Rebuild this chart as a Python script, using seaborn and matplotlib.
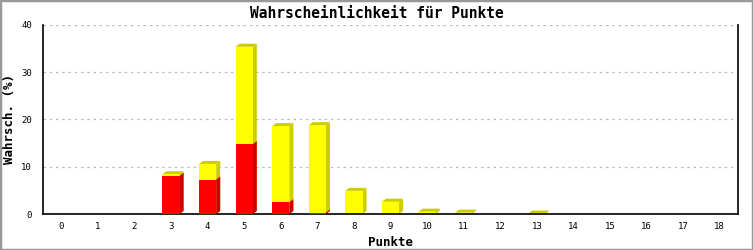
import matplotlib
matplotlib.use("Agg")
import matplotlib.pyplot as plt
import seaborn as sns
import pandas as pd
import numpy as np
from matplotlib.patches import Polygon, Rectangle

categories = [str(i) for i in range(19)]
red_values = [0, 0, 0, 8.1, 7.3, 14.8, 2.5, 0.3, 0, 0, 0, 0, 0, 0, 0, 0, 0, 0, 0]
yellow_values = [0, 0, 0, 0.3, 3.3, 20.6, 16.1, 18.5, 4.9, 2.6, 0.5, 0.3, 0, 0.1, 0, 0, 0, 0, 0]
y_ticks = [0, 10, 20, 30, 40]

df = pd.DataFrame({"Punkte": categories,
                   "red": red_values,
                   "total": [r + y for r, y in zip(red_values, yellow_values)]})

sns.set_style("white")
plt.rcParams['font.family'] = ['DejaVu Sans Mono']
plt.rcParams['text.color'] = 'black'
plt.rcParams['axes.labelcolor'] = 'black'
plt.rcParams['xtick.color'] = 'black'
plt.rcParams['ytick.color'] = 'black'

fig = plt.figure(figsize=(7.53, 2.5), dpi=100)
ax = fig.add_axes([43/753, 1-214/250, (738-43)/753, (214-25)/250])

BAR_W = 0.47
sns.barplot(data=df, x="Punkte", y="total", color="#ffff00", width=BAR_W,
            saturation=1, ax=ax, linewidth=0, zorder=2)
n = len(categories)
sns.barplot(data=df, x="Punkte", y="red", color="#ff0000", width=BAR_W,
            saturation=1, ax=ax, linewidth=0, zorder=3)

ax.set_xlim(-0.5, 18.5)
ax.set_ylim(0, 40)

# 3D effect offsets in data units (approx 4 px right, 3 px up)
dx = 4 / 36.58
dy = 3 / 4.725

patches = list(ax.patches)
yellow_patches = patches[:n]
red_patches = patches[n:]

def add3d(p, side_col, top=True, z=1):
    x, y0 = p.get_x(), p.get_y()
    w, h = p.get_width(), p.get_height()
    if h <= 0:
        return
    y1 = y0 + h
    side = Polygon([(x + w, y0), (x + w + dx, y0 + dy), (x + w + dx, y1 + dy), (x + w, y1)],
                   closed=True, facecolor=side_col, edgecolor='none', zorder=z)
    ax.add_patch(side)
    if top:
        tp = Polygon([(x, y1), (x + dx, y1 + dy), (x + w + dx, y1 + dy), (x + w, y1)],
                     closed=True, facecolor=side_col, edgecolor='none', zorder=z)
        ax.add_patch(tp)

for p in yellow_patches:
    add3d(p, "#cccc00", top=True, z=1.5)
for p in red_patches:
    add3d(p, "#cc0000", top=False, z=2.5)

ax.set_yticks(y_ticks)
ax.set_yticklabels([str(t) for t in y_ticks], fontsize=6.5)
ax.tick_params(axis='y', direction='out', length=5, width=1, color='black', pad=3)
ax.tick_params(axis='x', length=0, pad=6, labelsize=6.5)
ax.yaxis.grid(True, color='#bbbbbb', linestyle=(0, (2, 3)), linewidth=0.9)
ax.set_axisbelow(True)

for s in ['left', 'bottom', 'right']:
    ax.spines[s].set_visible(True)
    ax.spines[s].set_color('black')
    ax.spines[s].set_linewidth(1.2)
ax.spines['top'].set_visible(False)

ax.set_xlabel("Punkte", fontsize=9, fontweight='bold', labelpad=3)
ax.set_ylabel("Wahrsch. (%)", fontsize=9, fontweight='bold', labelpad=4)
fig.text(0.5, 1 - 13/250, "Wahrscheinlichkeit für Punkte", ha='center', va='center',
         fontsize=10.5, fontweight='bold')

fig.patches.append(Rectangle((0, 0), 1, 1, transform=fig.transFigure, fill=False,
                             edgecolor='#999999', linewidth=2.5, zorder=10))

fig.savefig("out.png", dpi=100, facecolor='white')
